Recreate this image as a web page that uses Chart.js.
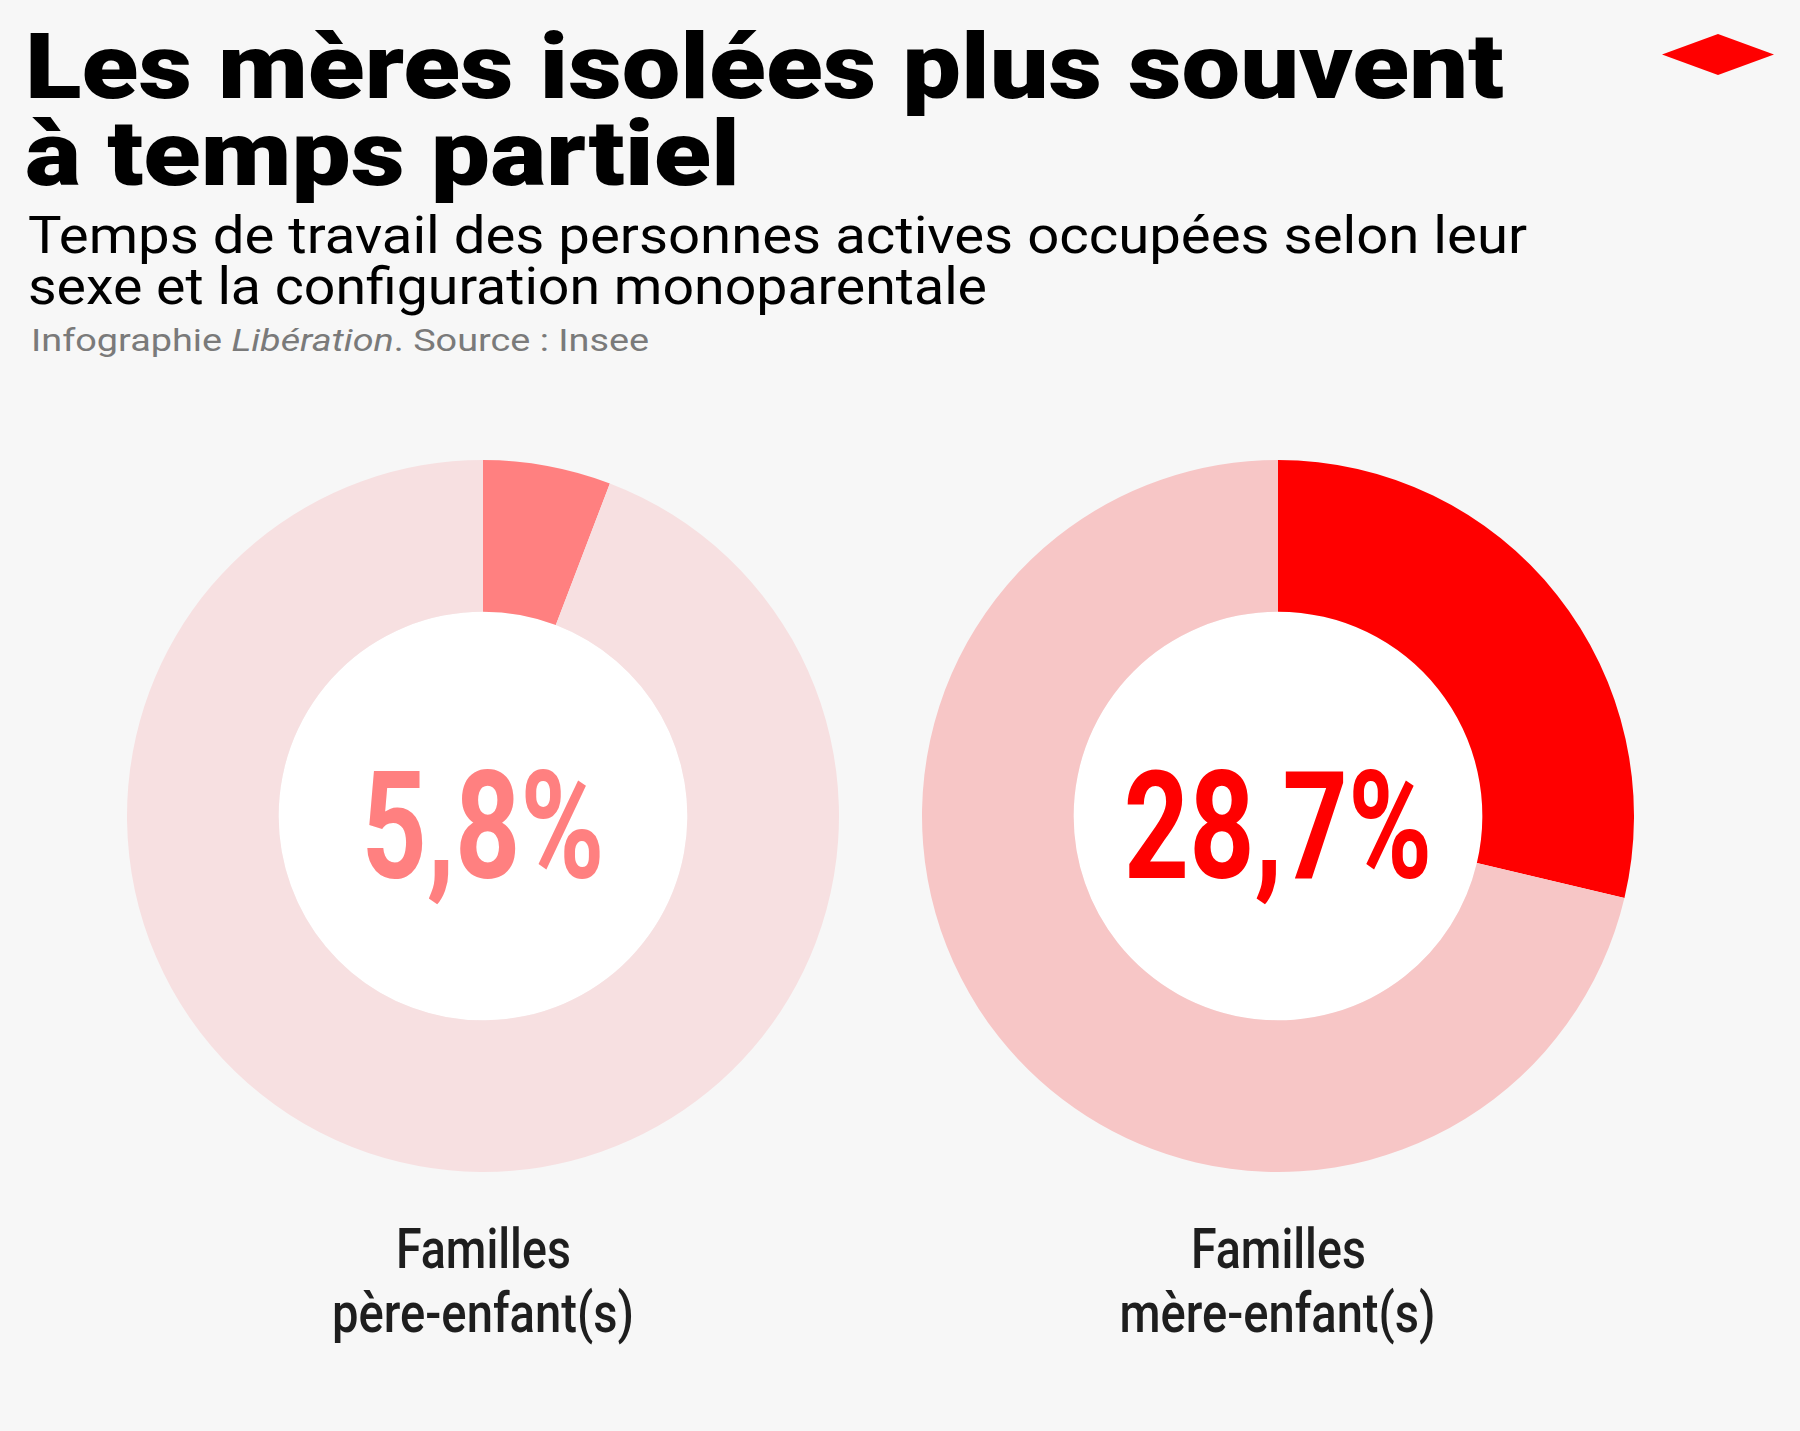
<!DOCTYPE html>
<html lang="fr">
<head>
  <meta charset="UTF-8">
  <title>Les mères isolées plus souvent à temps partiel</title>
  <script src="https://cdn.jsdelivr.net/npm/chart.js"></script>
  <style>
    body {
      margin: 0;
      width: 1800px;
      height: 1431px;
      background: #f7f7f7;
      font-family: Roboto, "Noto Sans", sans-serif;
      position: relative;
      overflow: hidden;
    }
    .line {
      position: absolute;
      white-space: nowrap;
      transform-origin: 0 0;
    }
    .title { font-size: 90px; line-height: 87px; font-weight: 900; color: #000; left: 25px; }
    .sub { font-size: 52px; line-height: 51px; font-weight: 400; color: #000; left: 28px; }
    .source { font-size: 31px; line-height: 36px; color: #7a7a7a; left: 31px; top: 323px; }
    .label {
      position: absolute;
      width: 600px;
      text-align: center;
      font-size: 55px;
      line-height: 64px;
      font-weight: 500;
      color: #1e1e1e;
    }
    .label span { display: inline-block; white-space: nowrap; transform-origin: 50% 0; }
    .logo {
      position: absolute;
      left: 1662px; top: 34px; width: 112px; height: 41px;
      background: #ff0000;
      clip-path: polygon(0 50%, 50% 0, 100% 50%, 50% 100%);
    }
    canvas { position: absolute; }
  </style>
</head>
<body>
  <div class="line title" style="top:24px" data-w="1479">Les mères isolées plus souvent</div>
  <div class="line title" style="top:111px" data-w="715">à temps partiel</div>
  <div class="line sub" style="top:210px" data-w="1499">Temps de travail des personnes actives occupées selon leur</div>
  <div class="line sub" style="top:261px" data-w="959">sexe et la configuration monoparentale</div>
  <div class="line source" data-w="618">Infographie <i>Libération</i>. Source : Insee</div>
  <div class="logo"></div>

  <canvas id="donut0" width="712" height="712" style="left:127px; top:460px"></canvas>
  <canvas id="donut1" width="712" height="712" style="left:922px; top:460px"></canvas>

  <div id="label0" class="label" style="left:183px; top:1217px"></div>
  <div id="label1" class="label" style="left:978px; top:1217px"></div>

  <script>
    // Data
    var groups = ['Familles père-enfant(s)', 'Familles mère-enfant(s)'];
    var labelLines = [['Familles', 'père-enfant(s)'], ['Familles', 'mère-enfant(s)']];
    var partTimeShare = [5.8, 28.7];
    var otherShare = [94.2, 71.3];
    var centerLabels = ['5,8%', '28,7%'];
    var sliceColors = ['#ff8080', '#ff0000'];
    var restColors = ['#f7e0e1', '#f7c6c6'];
    var labelWidths = [[175, 302], [175, 316]];

    // squeeze a text element horizontally so it has the target width
    function fitWidth(el, target) {
      var w = el.getBoundingClientRect().width;
      if (w > 0) el.style.transform = 'scaleX(' + (target / w) + ')';
    }

    document.querySelectorAll('.line').forEach(function (el) {
      fitWidth(el, parseFloat(el.dataset.w));
    });

    // white hole + big percentage in the middle of each donut
    var centerPlugin = {
      id: 'centerText',
      beforeDatasetsDraw: function (chart) {
        var arc = chart.getDatasetMeta(0).data[0];
        var ctx = chart.ctx;
        ctx.save();
        ctx.beginPath();
        ctx.arc(arc.x, arc.y, arc.innerRadius, 0, Math.PI * 2);
        ctx.fillStyle = '#ffffff';
        ctx.fill();
        ctx.restore();
      },
      afterDatasetsDraw: function (chart, args, opts) {
        var arc = chart.getDatasetMeta(0).data[0];
        var ctx = chart.ctx;
        ctx.save();
        ctx.font = '700 150px Roboto';
        ctx.fillStyle = opts.color;
        ctx.textAlign = 'center';
        ctx.textBaseline = 'alphabetic';
        ctx.translate(arc.x, arc.y + 62);
        ctx.scale(0.76, 1);
        ctx.fillText(opts.text, 0, 0);
        ctx.restore();
      }
    };

    groups.forEach(function (g, i) {
      var ctx = document.getElementById('donut' + i).getContext('2d');
      new Chart(ctx, {
        type: 'doughnut',
        data: {
          labels: ['Temps partiel', 'Autre'],
          datasets: [{
            label: g,
            data: [partTimeShare[i], otherShare[i]],
            backgroundColor: [sliceColors[i], restColors[i]],
            borderWidth: 0
          }]
        },
        options: {
          responsive: false,
          animation: false,
          cutout: '57.4%',
          layout: { padding: 0 },
          plugins: {
            legend: { display: false },
            tooltip: { enabled: false },
            centerText: { text: centerLabels[i], color: sliceColors[i] }
          }
        },
        plugins: [centerPlugin]
      });

      var box = document.getElementById('label' + i);
      labelLines[i].forEach(function (txt, k) {
        var span = document.createElement('span');
        span.textContent = txt;
        box.appendChild(span);
        box.appendChild(document.createElement('br'));
        fitWidth(span, labelWidths[i][k]);
      });
    });
  </script>
</body>
</html>
